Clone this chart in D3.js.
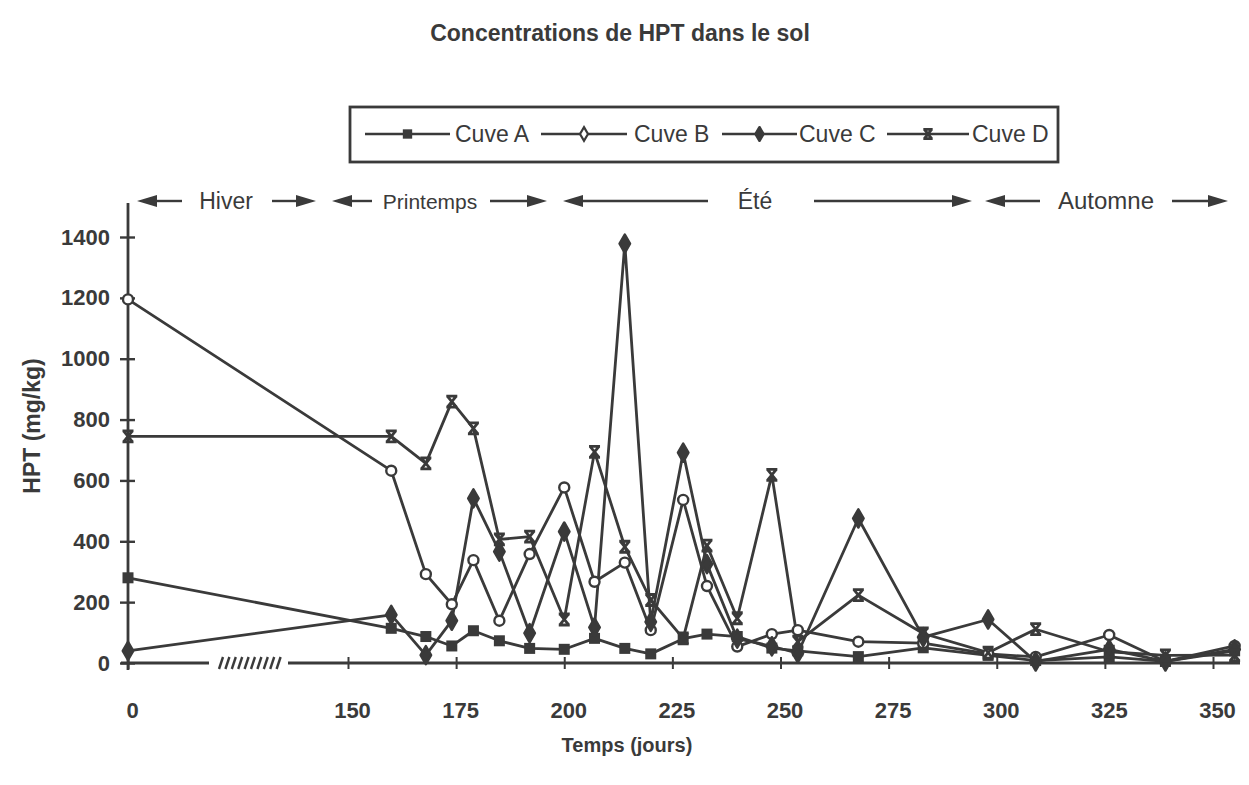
<!DOCTYPE html>
<html>
<head>
<meta charset="utf-8">
<script src="https://cdn.jsdelivr.net/npm/d3@7"></script>
<style>
  body { margin: 0; background: #fff; }
  svg { display: block; }
</style>
</head>
<body>
<div id="chart"></div>
<script>
// sampling days (jours)
const days = [0, 160, 168, 174, 179, 185, 192, 200, 207, 214, 220, 227.5, 233, 240, 248, 254, 268, 283, 298, 309, 326, 339, 355];
// HPT (mg/kg) per tank
const cuveA = [280, 114, 87, 56, 106, 73, 48, 45, 81, 48, 30, 80, 95, 87, 49, 40, 21, 50, 25, 8, 20, 5, 40];
const cuveB = [1195, 632, 292, 193, 338, 139, 358, 577, 267, 330, 108, 536, 253, 54, 95, 108, 70, 65, 30, 20, 92, 5, 56];
const cuveC = [40, 158, 26, 139, 541, 366, 98, 432, 117, 1378, 135, 691, 325, 80, 55, 32, 475, 85, 143, 5, 45, 5, 45];
const cuveD = [745, 745, 656, 859, 771, 406, 415, 143, 694, 382, 207, 81, 386, 147, 618, 70, 223, 97, 34, 111, 37, 25, 26];
const seriesNames = ["Cuve A", "Cuve B", "Cuve C", "Cuve D"];
const xTicks = [0, 150, 175, 200, 225, 250, 275, 300, 325, 350];
const yTicks = [0, 200, 400, 600, 800, 1000, 1200, 1400];
const seasons = ["Hiver", "Printemps", "Été", "Automne"];

const W = 1249, H = 785;
const ink = "#3a3a3a";
const font = "'Liberation Sans', Arial, Helvetica, sans-serif";

const svg = d3.select("#chart").append("svg")
    .attr("width", W)
    .attr("height", H)
    .style("background", "#fff");

// broken time axis: 0 then jump to 150
const x = d3.scaleLinear().domain([0, 150, 350]).range([128, 348, 1213]);
const y = d3.scaleLinear().domain([0, 1400]).range([663, 237]);

// title
svg.append("text")
    .attr("x", 620).attr("y", 41)
    .attr("text-anchor", "middle")
    .style("font-family", font).style("font-size", "23px").style("font-weight", "bold")
    .attr("fill", ink)
    .text("Concentrations de HPT dans le sol");

// markers
function marker(g, type, cx, cy, s) {
    s = s || 1;
    if (type === "square") {
        g.append("rect")
            .attr("x", cx - 5.5 * s).attr("y", cy - 5.5 * s)
            .attr("width", 11 * s).attr("height", 11 * s)
            .attr("fill", ink);
    } else if (type === "open") {
        g.append("circle")
            .attr("cx", cx).attr("cy", cy).attr("r", 5 * s)
            .attr("fill", "#fff").attr("stroke", ink).attr("stroke-width", 2.4);
    } else if (type === "openDiamond") {
        g.append("path")
            .attr("d", d3.symbol(d3.symbolDiamond, 55)())
            .attr("transform", `translate(${cx},${cy})`)
            .attr("fill", "#fff").attr("stroke", ink).attr("stroke-width", 2.2);
    } else if (type === "filled") {
        g.append("path")
            .attr("d", d3.symbol(d3.symbolDiamond, 95 * s * s)())
            .attr("transform", `translate(${cx},${cy})`)
            .attr("fill", ink).attr("stroke", ink).attr("stroke-width", 2.5)
            .attr("stroke-linejoin", "round");
    } else if (type === "star") {
        const a = 5.5 * s;
        g.append("path")
            .attr("d", `M${cx - a},${cy - a}H${cx + a}M${cx - a},${cy + a}H${cx + a}M${cx - a + 1},${cy - a}L${cx + a - 1},${cy + a}M${cx + a - 1},${cy - a}L${cx - a + 1},${cy + a}`)
            .attr("fill", "none").attr("stroke", ink).attr("stroke-width", 2.8);
    }
}

const series = [
    { name: seriesNames[0], values: cuveA, type: "square", legendType: "square" },
    { name: seriesNames[1], values: cuveB, type: "open", legendType: "openDiamond" },
    { name: seriesNames[2], values: cuveC, type: "filled", legendType: "filled" },
    { name: seriesNames[3], values: cuveD, type: "star", legendType: "star" }
];

// legend box
svg.append("rect")
    .attr("x", 350).attr("y", 107)
    .attr("width", 708).attr("height", 55)
    .attr("fill", "none").attr("stroke", ink).attr("stroke-width", 2.8);

const legendPos = [[365, 450, 455], [541, 627, 634], [722, 797, 799], [887, 969, 972]];
const legend = svg.append("g");
series.forEach((s, i) => {
    const [x1, x2, tx] = legendPos[i];
    legend.append("line")
        .attr("x1", x1).attr("x2", x2).attr("y1", 134).attr("y2", 134)
        .attr("stroke", ink).attr("stroke-width", 2.4);
    marker(legend, s.legendType, (x1 + x2) / 2, 134, s.legendType === "filled" ? 0.75 : 0.85);
    legend.append("text")
        .attr("x", tx).attr("y", 142)
        .style("font-family", font).style("font-size", "23px")
        .attr("fill", ink)
        .text(s.name);
});

// season arrows
function arrow(x1, x2, yy) {
    const dir = x2 > x1 ? 1 : -1;
    const hl = 20, hw = 6;
    svg.append("line")
        .attr("x1", x1).attr("x2", x2 - dir * hl).attr("y1", yy).attr("y2", yy)
        .attr("stroke", ink).attr("stroke-width", 2.4);
    svg.append("path")
        .attr("d", `M${x2},${yy}L${x2 - dir * hl},${yy - hw}L${x2 - dir * hl},${yy + hw}Z`)
        .attr("fill", ink);
}
const seasonLayout = [
    { cx: 226, size: 23, left: [182, 137], right: [272, 316] },
    { cx: 430, size: 21, left: [372, 332], right: [490, 547] },
    { cx: 755, size: 23, left: [708, 563], right: [814, 972] },
    { cx: 1106, size: 24, left: [1040, 985], right: [1172, 1228] }
];
seasons.forEach((name, i) => {
    const L = seasonLayout[i];
    arrow(L.left[0], L.left[1], 201);
    arrow(L.right[0], L.right[1], 201);
    svg.append("text")
        .attr("x", L.cx).attr("y", 209)
        .attr("text-anchor", "middle")
        .style("font-family", font).style("font-size", L.size + "px")
        .attr("fill", ink)
        .text(name);
});

// x axis
const xAxis = svg.append("g")
    .attr("transform", "translate(0,663)")
    .call(d3.axisBottom(x).tickValues(xTicks).tickSize(6).tickFormat(d3.format("d")));
xAxis.select(".domain").remove();
xAxis.selectAll(".tick line")
    .attr("y1", -6).attr("y2", 6)
    .attr("stroke", ink).attr("stroke-width", 2);
xAxis.selectAll(".tick text")
    .attr("x", 4)
    .attr("y", 55).attr("dy", null)
    .attr("fill", ink)
    .style("font-family", font).style("font-size", "22px").style("font-weight", "bold");

// broken axis line with hatch
[[121, 209], [288, 1240]].forEach(([a, b]) => {
    svg.append("line")
        .attr("x1", a).attr("x2", b).attr("y1", 663).attr("y2", 663)
        .attr("stroke", ink).attr("stroke-width", 2.8);
});
const hatch = svg.append("g");
for (let k = 0; k < 10; k++) {
    const hx = 219 + k * 6.4;
    hatch.append("line")
        .attr("x1", hx).attr("y1", 669).attr("x2", hx + 4).attr("y2", 657)
        .attr("stroke", ink).attr("stroke-width", 2.4);
}

// y axis
const yAxis = svg.append("g")
    .attr("transform", "translate(128,0)")
    .call(d3.axisLeft(y).tickValues(yTicks).tickSize(7).tickFormat(d3.format("d")));
yAxis.select(".domain").remove();
yAxis.selectAll(".tick line")
    .attr("x1", 7).attr("x2", -8)
    .attr("stroke", ink).attr("stroke-width", 2.4);
yAxis.selectAll(".tick text")
    .attr("x", -18)
    .attr("fill", ink)
    .style("font-family", font).style("font-size", "22px").style("font-weight", "bold");
svg.append("line")
    .attr("x1", 128).attr("x2", 128).attr("y1", 203).attr("y2", 670)
    .attr("stroke", ink).attr("stroke-width", 2.8);

// axis titles
svg.append("text")
    .attr("x", 627).attr("y", 752)
    .attr("text-anchor", "middle")
    .style("font-family", font).style("font-size", "20px").style("font-weight", "bold")
    .attr("fill", ink)
    .text("Temps (jours)");
svg.append("text")
    .attr("transform", "translate(40,426) rotate(-90)")
    .attr("text-anchor", "middle")
    .style("font-family", font).style("font-size", "23px").style("font-weight", "bold")
    .attr("fill", ink)
    .text("HPT (mg/kg)");

// series lines and markers
const line = d3.line()
    .x((d, i) => x(days[i]))
    .y(d => y(d));

const plot = svg.append("g");
series.forEach(s => {
    plot.append("path")
        .datum(s.values)
        .attr("d", line)
        .attr("fill", "none")
        .attr("stroke", ink)
        .attr("stroke-width", 2.8)
        .attr("stroke-linejoin", "round");
});
series.forEach(s => {
    s.values.forEach((v, i) => marker(plot, s.type, x(days[i]), y(v), 1));
});
</script>
</body>
</html>
